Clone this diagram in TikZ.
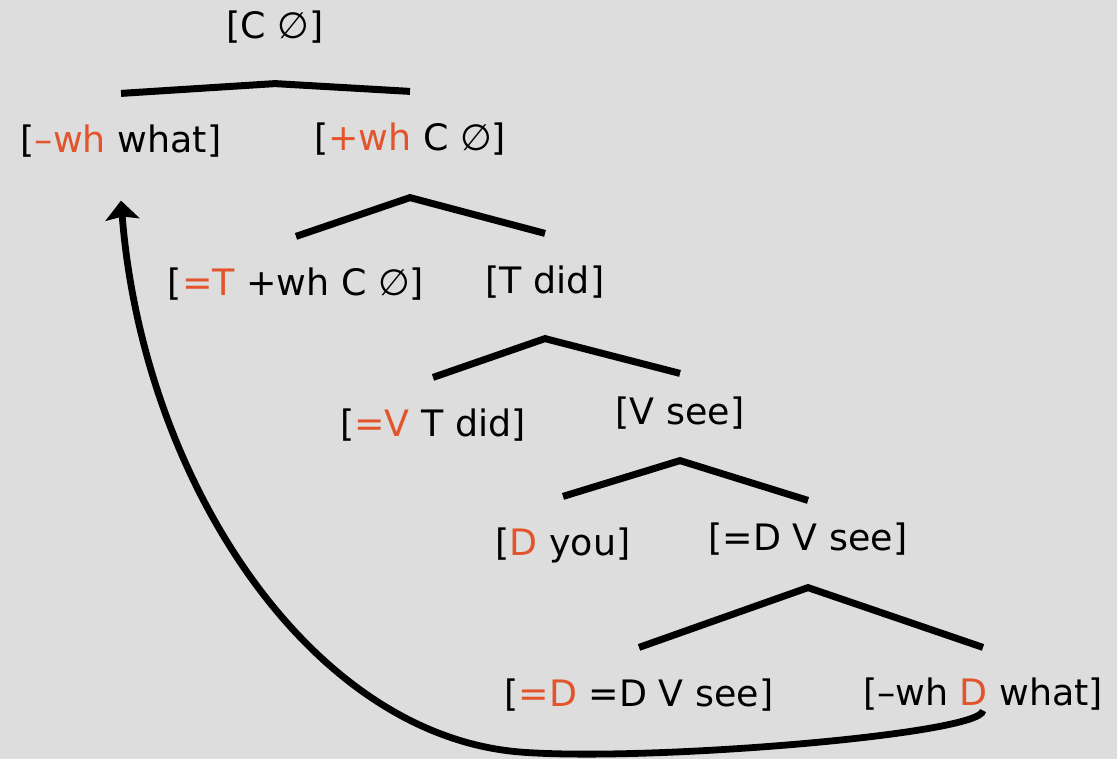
\documentclass[tikz,border=0pt]{standalone}
\usepackage{fontspec}
\setmainfont{DejaVu Sans}
\usepackage{tikz}
\usetikzlibrary{arrows.meta, calc}

\definecolor{bggray}{HTML}{DDDDDD}
\definecolor{feat}{HTML}{E2542C}
\newcommand{\ft}[1]{\textcolor{feat}{#1}}

\begin{document}
\begin{tikzpicture}[
    x=0.5pt, y=-0.5pt,
    % Define styles for the nodes and paths
        lbl/.style={inner sep=0pt, font=\fontsize{18.2}{22}\selectfont, text height=13.8pt, text depth=2.4pt},
        branch/.style={line width=3.5pt},
        move/.style={line width=3.4pt, -{Stealth[length=9.5pt, width=17pt, inset=1.5pt]}}
    ]
        \fill[bggray] (0,0) rectangle (1117,759);

        % Define the nodes
        \node[lbl] (cnull) at (275,27) {[C ∅]};

        \node[lbl] (whwhat) at (121,141) {[\ft{–wh} what]};
        \node[lbl] (pluswh) at (410,139) {[\ft{+wh} C ∅]};

        \node[lbl] (eqt) at (296,284) {[\ft{=T} +wh C ∅]};
        \node[lbl] (tdid) at (545,282) {[T did]};

        \node[lbl] (eqv) at (433,425) {[\ft{=V} T did]};
        \node[lbl] (vsee) at (680,413) {[V see]};

        \node[lbl] (dyou) at (563,544) {[\ft{D} you]};
        \node[lbl] (eqdv) at (808,539) {[=D V see]};

        \node[lbl] (eqdd) at (639,695) {[\ft{=D} =D V see]};
        \node[lbl] (whd) at (983,694) {[–wh \ft{D} what]};

        % Draw the branches (parent/left/right/apex drop/right end lift)
        \foreach \p/\l/\r/\a/\b in {cnull/whwhat/pluswh/40/31, pluswh/eqt/tdid/42/32, tdid/eqv/vsee/40/23, vsee/dyou/eqdv/31/22, eqdv/eqdd/whd/32/30}
            \draw[branch] ($(\l.north)+(0,-31)$) -- ($(\p.south)+(0,\a)$) -- ($(\r.north)+(0,-\b)$);

        % Draw the movement arrow
        \draw[move] (whd.south) .. controls +(-2,24) and (646,762) .. (520,752)
            .. controls (310,735) and (143,480) .. ($(whwhat.south)+(0,43)$);
    \end{tikzpicture}
\end{document}
